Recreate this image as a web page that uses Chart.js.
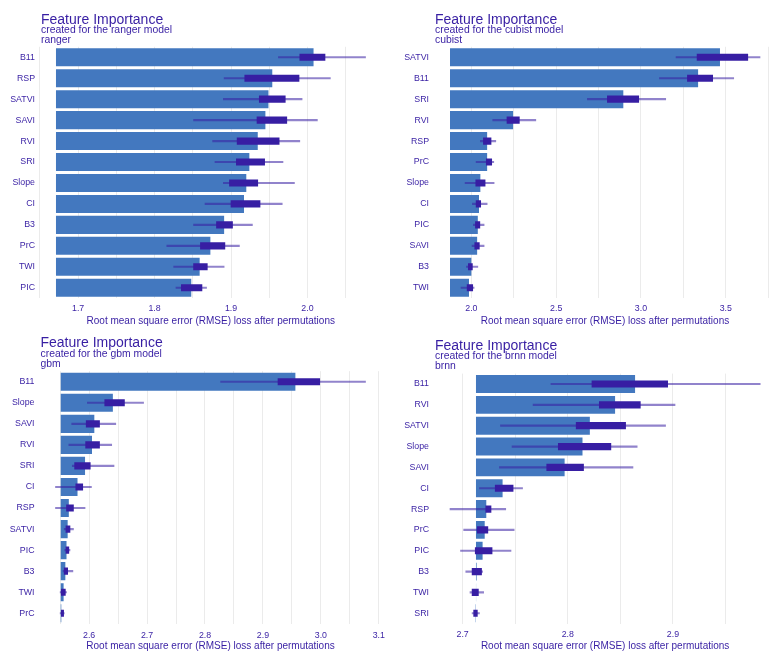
<!DOCTYPE html>
<html><head><meta charset="utf-8">
<script src="https://cdn.jsdelivr.net/npm/chart.js@4.4.1/dist/chart.umd.min.js"></script>
<style>
html,body{margin:0;padding:0;background:#fff;}
#wrap{position:relative;width:783px;height:663px;overflow:hidden;background:#fff;}
canvas{position:absolute;}
</style></head><body><div id="wrap">
<canvas id="c1" width="391" height="331" style="left:0px;top:0px"></canvas>
<canvas id="c2" width="392" height="331" style="left:391px;top:0px"></canvas>
<canvas id="c3" width="391" height="332" style="left:0px;top:331px"></canvas>
<canvas id="c4" width="392" height="332" style="left:391px;top:331px"></canvas>
</div>
<script>
// ---------- DATA ----------
const rangerFeatures = ["B11","RSP","SATVI","SAVI","RVI","SRI","Slope","CI","B3","PrC","TWI","PIC"];
const rangerBaseline = 1.671;
const rangerMean = [2.008,1.954,1.949,1.945,1.935,1.924,1.920,1.917,1.891,1.873,1.859,1.848];
const rangerMin  = [1.962,1.891,1.890,1.851,1.876,1.879,1.890,1.866,1.851,1.816,1.825,1.828];
const rangerQ1   = [1.990,1.918,1.937,1.934,1.908,1.907,1.898,1.900,1.881,1.860,1.851,1.835];
const rangerQ3   = [2.023,1.989,1.971,1.973,1.963,1.944,1.935,1.938,1.902,1.892,1.869,1.862];
const rangerMax  = [2.076,2.030,1.993,2.013,1.990,1.968,1.983,1.967,1.928,1.911,1.891,1.868];
const rangerTicks = [1.7,1.8,1.9,2.0];

const cubistFeatures = ["SATVI","B11","SRI","RVI","RSP","PrC","Slope","CI","PIC","SAVI","B3","TWI"];
const cubistBaseline = 1.874;
const cubistMean = [3.466,3.337,2.896,2.246,2.093,2.093,2.053,2.045,2.038,2.034,2.000,1.986];
const cubistMin  = [3.207,3.109,2.684,2.126,2.053,2.028,1.963,2.006,2.012,2.004,1.971,1.939];
const cubistQ1   = [3.331,3.274,2.802,2.210,2.071,2.088,2.026,2.028,2.024,2.020,1.982,1.975];
const cubistQ3   = [3.630,3.423,2.987,2.283,2.116,2.120,2.081,2.055,2.050,2.047,2.006,2.008];
const cubistMax  = [3.702,3.547,3.146,2.380,2.144,2.132,2.134,2.093,2.075,2.075,2.038,2.016];
const cubistTicks = [2.0,2.5,3.0,3.5];

const gbmFeatures = ["B11","Slope","SAVI","RVI","SRI","CI","RSP","SATVI","PIC","B3","TWI","PrC"];
const gbmBaseline = 2.551;
const gbmMean = [2.956,2.641,2.609,2.605,2.593,2.580,2.565,2.563,2.561,2.559,2.556,2.552];
const gbmMin  = [2.827,2.597,2.570,2.565,2.571,2.542,2.542,2.557,2.558,2.555,2.550,2.550];
const gbmQ1   = [2.926,2.627,2.595,2.594,2.575,2.577,2.561,2.560,2.560,2.557,2.552,2.552];
const gbmQ3   = [2.998,2.661,2.618,2.618,2.602,2.589,2.573,2.567,2.565,2.563,2.559,2.556];
const gbmMax  = [3.077,2.694,2.646,2.639,2.643,2.604,2.593,2.573,2.567,2.572,2.561,2.557];
const gbmTicks = [2.6,2.7,2.8,2.9,3.0,3.1];

const brnnFeatures = ["B11","RVI","SATVI","Slope","SAVI","CI","RSP","PrC","PIC","B3","TWI","SRI"];
const brnnBaseline = 2.7127;
const brnnMean = [2.864,2.845,2.821,2.814,2.797,2.738,2.7225,2.721,2.719,2.7133,2.7128,2.7124];
const brnnMin  = [2.784,2.767,2.736,2.747,2.735,2.716,2.688,2.701,2.698,2.703,2.707,2.709];
const brnnQ1   = [2.823,2.830,2.808,2.791,2.780,2.731,2.722,2.714,2.712,2.709,2.709,2.7105];
const brnnQ3   = [2.895,2.869,2.855,2.841,2.815,2.748,2.727,2.724,2.728,2.718,2.715,2.714];
const brnnMax  = [2.983,2.902,2.893,2.866,2.862,2.757,2.741,2.749,2.746,2.719,2.720,2.716];
const brnnTicks = [2.7,2.8,2.9];

const modelNames = ["ranger","cubist","gbm","brnn"];
// ---------- END DATA ----------

const FONT = "'Liberation Sans', Arial, Helvetica, sans-serif";
const PURPLE = "#371ea3";
const BAR = "#4378bf";
const AXIS_TITLE = "Root mean square error (RMSE) loss after permutations";

const models = [
  {id:"c1", name:modelNames[0], f:rangerFeatures, base:rangerBaseline, mean:rangerMean, mn:rangerMin, q1:rangerQ1, q3:rangerQ3, mx:rangerMax, ticks:rangerTicks},
  {id:"c2", name:modelNames[1], f:cubistFeatures, base:cubistBaseline, mean:cubistMean, mn:cubistMin, q1:cubistQ1, q3:cubistQ3, mx:cubistMax, ticks:cubistTicks},
  {id:"c3", name:modelNames[2], f:gbmFeatures, base:gbmBaseline, mean:gbmMean, mn:gbmMin, q1:gbmQ1, q3:gbmQ3, mx:gbmMax, ticks:gbmTicks},
  {id:"c4", name:modelNames[3], f:brnnFeatures, base:brnnBaseline, mean:brnnMean, mn:brnnMin, q1:brnnQ1, q3:brnnQ3, mx:brnnMax, ticks:brnnTicks}
];

// layout per panel (canvas coordinates)
const layouts = [
  {yw:40.5, padR:10,  padT:46.8, xh:32.8, xpad:5, tpad:4,  titleY:[24,33.3,43.3]},
  {yw:43.5, padR:7.5, padT:46.8, xh:32.8, xpad:5, tpad:4,  titleY:[24,33.3,43.3]},
  {yw:40,   padR:10,  padT:40.2, xh:39.2, xpad:6, tpad:11, titleY:[16.3,26.3,36.3]},
  {yw:43.5, padR:7.3, padT:42.6, xh:39.3, xpad:6, tpad:11, titleY:[19,28.3,38.3]}
];

const titlePlugin = {
  id:'fiTitles',
  afterDraw(chart, args, opts){
    const ctx = chart.ctx, a = chart.chartArea;
    ctx.save();
    ctx.fillStyle = PURPLE;
    ctx.textAlign = 'left';
    ctx.textBaseline = 'alphabetic';
    ctx.font = "14px " + FONT;
    ctx.fillText("Feature Importance", a.left + 0.5, opts.ys[0]);
    ctx.font = "10.4px " + FONT;
    ctx.fillText("created for the " + opts.name + " model", a.left + 0.5, opts.ys[1]);
    ctx.fillText(opts.name, a.left + 0.5, opts.ys[2]);
    ctx.restore();
  }
};

models.forEach((m, k) => {
  const L = layouts[k];
  const lo = Math.min(m.base, ...m.mn, ...m.mean);
  const hi = Math.max(...m.mx, ...m.mean);
  const ext = (hi - lo) * 0.05;
  const xmin = lo - ext, xmax = hi + ext;
  const step = (m.ticks[1] - m.ticks[0]) / 2;
  const grid = [];
  for (let v = m.ticks[0] - step*2; v <= m.ticks[m.ticks.length-1] + step*2 + 1e-9; v += step) {
    const r = Math.round(v*1000)/1000;
    if (r >= xmin - (xmax-xmin)*0.01 && r <= xmax) grid.push(r);
  }
  new Chart(document.getElementById(m.id), {
    type:'bar',
    data:{
      labels:m.f,
      datasets:[
        {label:'loss', data:m.mean.map(v => [m.base, v]), backgroundColor:BAR, borderWidth:0,
         barPercentage:0.86, categoryPercentage:1, grouped:false, order:3},
        {label:'range', data:m.mn.map((v,i) => [v, m.mx[i]]), backgroundColor:'rgba(55,30,163,0.55)', borderWidth:0,
         barThickness:1.5, grouped:false, order:2},
        {label:'iqr', data:m.q1.map((v,i) => [v, m.q3[i]]), backgroundColor:PURPLE, borderWidth:0,
         barThickness:6.5, grouped:false, order:1}
      ]
    },
    options:{
      indexAxis:'y',
      responsive:false,
      animation:false,
      devicePixelRatio:1,
      layout:{padding:{left:0, right:L.padR, top:L.padT, bottom:0}},
      plugins:{legend:{display:false}, tooltip:{enabled:false}, title:{display:false},
        fiTitles:{name:m.name, ys:L.titleY}},
      scales:{
        x:{type:'linear', position:'bottom', min:xmin, max:xmax,
          afterBuildTicks: s => { s.ticks = grid.map(v => ({value:v})); },
          afterFit: s => { s.height = L.xh; },
          grid:{color:'#ebebeb', lineWidth:1, drawTicks:false},
          border:{display:false},
          ticks:{padding:L.xpad, color:PURPLE, autoSkip:false, maxRotation:0,
            font:{family:FONT, size:8.8},
            callback: v => m.ticks.some(t => Math.abs(t - v) < 1e-6) ? Number(v).toFixed(1) : ''},
          title:{display:true, text:AXIS_TITLE, color:PURPLE, font:{family:FONT, size:10},
            padding:{top:0, bottom:L.tpad}}
        },
        y:{type:'category', position:'left',
          afterFit: s => { s.width = L.yw; },
          grid:{display:false, drawTicks:false},
          border:{display:false},
          ticks:{padding:5.5, color:PURPLE, font:{family:FONT, size:8.8}, autoSkip:false}
        }
      }
    },
    plugins:[titlePlugin]
  });
});
</script>
</body></html>
